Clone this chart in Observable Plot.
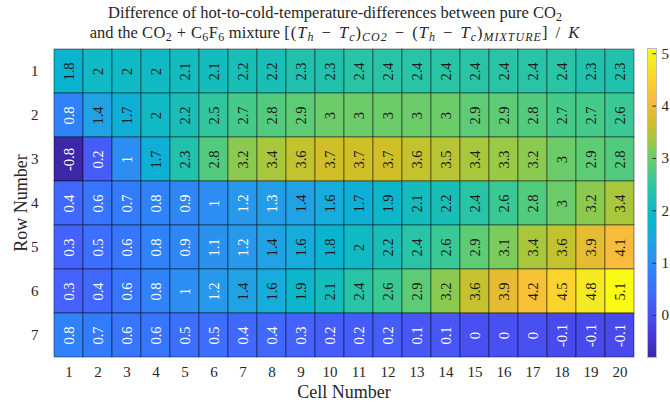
<!DOCTYPE html>
<html>
<head>
<meta charset="utf-8">
<script src="https://cdn.jsdelivr.net/npm/d3@7"></script>
<script src="https://cdn.jsdelivr.net/npm/@observablehq/plot@0.6"></script>
<style>
  html, body { margin: 0; padding: 0; background: #fff; }
  #chart { position: relative; width: 670px; height: 402px; font-family: "Liberation Serif", "DejaVu Serif", serif; color: #262626; }
  .title-line { position: absolute; left: 0; width: 670px; text-align: center; font-size: 16.5px; line-height: 19px; white-space: nowrap; }
  #t1 { top: 3px; }
  #t2 { top: 23px; }
  .title-line sub { font-size: 12px; line-height: 0; vertical-align: -3px; }
  .chem { letter-spacing: 0.4px; }
  .math { letter-spacing: 1px; word-spacing: 2px; }
  .math sub { font-size: 12px; }
  #heat { position: absolute; left: 0; top: 44px; width: 670px; }
  #bar { position: absolute; left: 640px; top: 44px; width: 40px; }
  svg text { font-family: "Liberation Serif", "DejaVu Serif", serif; }
  svg [aria-label="x-axis label"], svg [aria-label="y-axis label"] { font-size: 18px; }
</style>
</head>
<body>
<div id="chart">
  <div class="title-line" id="t1">Difference of hot-to-cold-temperature-differences between pure CO<sub>2</sub></div>
  <div class="title-line" id="t2">and the <span class="chem">CO<sub>2</sub> + C<sub>6</sub>F<sub>6</sub></span> mixture <span class="math">[(<i>T<sub>h</sub></i> − <i>T<sub>c</sub></i>)<sub><i>CO2</i></sub> − (<i>T<sub>h</sub></i> − <i>T<sub>c</sub></i>)<sub><i>MIXTURE</i></sub>] / <i>K</i></span></div>
  <div id="heat"></div>
  <div id="bar"></div>
</div>
<script>
// Cell and row numbers (tick labels)
const cellNumbers = [1, 2, 3, 4, 5, 6, 7, 8, 9, 10, 11, 12, 13, 14, 15, 16, 17, 18, 19, 20];
const rowNumbers = [1, 2, 3, 4, 5, 6, 7];

// (Th - Tc)_CO2 - (Th - Tc)_MIXTURE in K, one array per row
const row1 = [1.8, 2, 2, 2, 2.1, 2.1, 2.2, 2.2, 2.3, 2.3, 2.4, 2.4, 2.4, 2.4, 2.4, 2.4, 2.4, 2.4, 2.3, 2.3];
const row2 = [0.8, 1.4, 1.7, 2, 2.2, 2.5, 2.7, 2.8, 2.9, 3, 3, 3, 3, 3, 2.9, 2.9, 2.8, 2.7, 2.7, 2.6];
const row3 = [-0.8, 0.2, 1, 1.7, 2.3, 2.8, 3.2, 3.4, 3.6, 3.7, 3.7, 3.7, 3.6, 3.5, 3.4, 3.3, 3.2, 3, 2.9, 2.8];
const row4 = [0.4, 0.6, 0.7, 0.8, 0.9, 1, 1.2, 1.3, 1.4, 1.6, 1.7, 1.9, 2.1, 2.2, 2.4, 2.6, 2.8, 3, 3.2, 3.4];
const row5 = [0.3, 0.5, 0.6, 0.8, 0.9, 1.1, 1.2, 1.4, 1.6, 1.8, 2, 2.2, 2.4, 2.6, 2.9, 3.1, 3.4, 3.6, 3.9, 4.1];
const row6 = [0.3, 0.4, 0.6, 0.8, 1, 1.2, 1.4, 1.6, 1.9, 2.1, 2.4, 2.6, 2.9, 3.2, 3.6, 3.9, 4.2, 4.5, 4.8, 5.1];
const row7 = [0.8, 0.7, 0.6, 0.6, 0.5, 0.5, 0.4, 0.4, 0.3, 0.2, 0.2, 0.2, 0.1, 0.1, 0, 0, 0, -0.1, -0.1, -0.1];

// Colour bar ticks
const colorTicks = [0, 1, 2, 3, 4, 5];

// Parula colormap key colours (index out of 63, r, g, b)
const parulaStops = [
  [0, 0.2422, 0.1504, 0.6603], [4, 0.2706, 0.2147, 0.8364], [8, 0.2813, 0.3006, 0.9414],
  [12, 0.2699, 0.3892, 0.9906], [16, 0.1963, 0.4847, 0.9892], [20, 0.1687, 0.5703, 0.9359],
  [24, 0.1248, 0.6459, 0.8883], [28, 0.0297, 0.7082, 0.8163], [32, 0.0964, 0.7500, 0.7120],
  [36, 0.2161, 0.7843, 0.5923], [40, 0.3909, 0.8029, 0.4354], [44, 0.6174, 0.7876, 0.2612],
  [48, 0.8203, 0.7498, 0.1535], [52, 0.9728, 0.7298, 0.2394], [56, 0.9892, 0.8136, 0.1885],
  [60, 0.9597, 0.9135, 0.1423], [63, 0.9769, 0.9839, 0.0805]
];
const parulaScale = d3.scaleLinear()
  .domain(parulaStops.map(s => s[0] / 63))
  .range(parulaStops.map(s => d3.rgb(s[1] * 255, s[2] * 255, s[3] * 255).formatHex()))
  .interpolate(d3.interpolateRgb)
  .clamp(true);
const parula = t => parulaScale(t);

const rows = [row1, row2, row3, row4, row5, row6, row7];
const table = rows.flatMap((vals, i) =>
  vals.map((value, j) => ({row: rowNumbers[i], cell: cellNumbers[j], value}))
);
const colorDomain = d3.extent(table, d => d.value);
const colorScale = {type: "linear", domain: colorDomain, interpolate: parula};

const font = '"Liberation Serif", "DejaVu Serif", serif';

const heat = Plot.plot({
  width: 670,
  height: 358,
  marginTop: 4,
  marginBottom: 45,
  marginLeft: 44,
  marginRight: 27,
  style: {fontFamily: font, fontSize: "15px", color: "#262626", background: "transparent"},
  x: {domain: cellNumbers, padding: 0},
  y: {domain: rowNumbers, padding: 0},
  color: colorScale,
  marks: [
    Plot.cell(table, {x: "cell", y: "row", fill: "value", stroke: "#000", strokeOpacity: 0.45, strokeWidth: 1}),
    Plot.text(table, {
      x: "cell", y: "row", text: d => String(d.value), rotate: -90,
      fill: d => d.value < 1.4 ? "#ffffff" : "#1a1a1a", fontSize: 14.5, fontFamily: font
    }),
    Plot.axisX({tickSize: 0, tickPadding: 9, fontSize: 15, fontFamily: font, label: "Cell Number", labelAnchor: "center", labelOffset: 40}),
    Plot.axisY({tickSize: 0, tickPadding: 6, fontSize: 15, fontFamily: font, label: "Row Number", labelAnchor: "center", labelOffset: 30})
  ]
});
document.getElementById("heat").appendChild(heat);

// Colour bar: thin slices of the colour domain
const nSlices = 240;
const step = (colorDomain[1] - colorDomain[0]) / nSlices;
const ramp = d3.range(nSlices).map(i => {
  const lo = colorDomain[0] + i * step;
  return {lo, hi: lo + step, mid: lo + step / 2};
});

const bar = Plot.plot({
  width: 40,
  height: 358,
  marginTop: 4,
  marginBottom: 45,
  marginLeft: 7,
  marginRight: 24,
  style: {fontFamily: font, fontSize: "15px", color: "#262626", background: "transparent", overflow: "visible"},
  x: {domain: [0, 1], axis: null},
  y: {domain: colorDomain, axis: null},
  color: colorScale,
  marks: [
    Plot.rect(ramp, {x1: 0, x2: 1, y1: "lo", y2: "hi", fill: "mid", shapeRendering: "crispEdges"}),
    Plot.frame({stroke: "#bdbdbd"}),
    Plot.ruleY(colorTicks, {x1: 0.6, x2: 1, stroke: "#333"}),
    Plot.text(colorTicks, {x: 1, y: d => d, text: d => String(d), dx: 5, textAnchor: "start", fontSize: 15, fontFamily: font, fill: "#262626"})
  ]
});
document.getElementById("bar").appendChild(bar);
</script>
</body>
</html>
